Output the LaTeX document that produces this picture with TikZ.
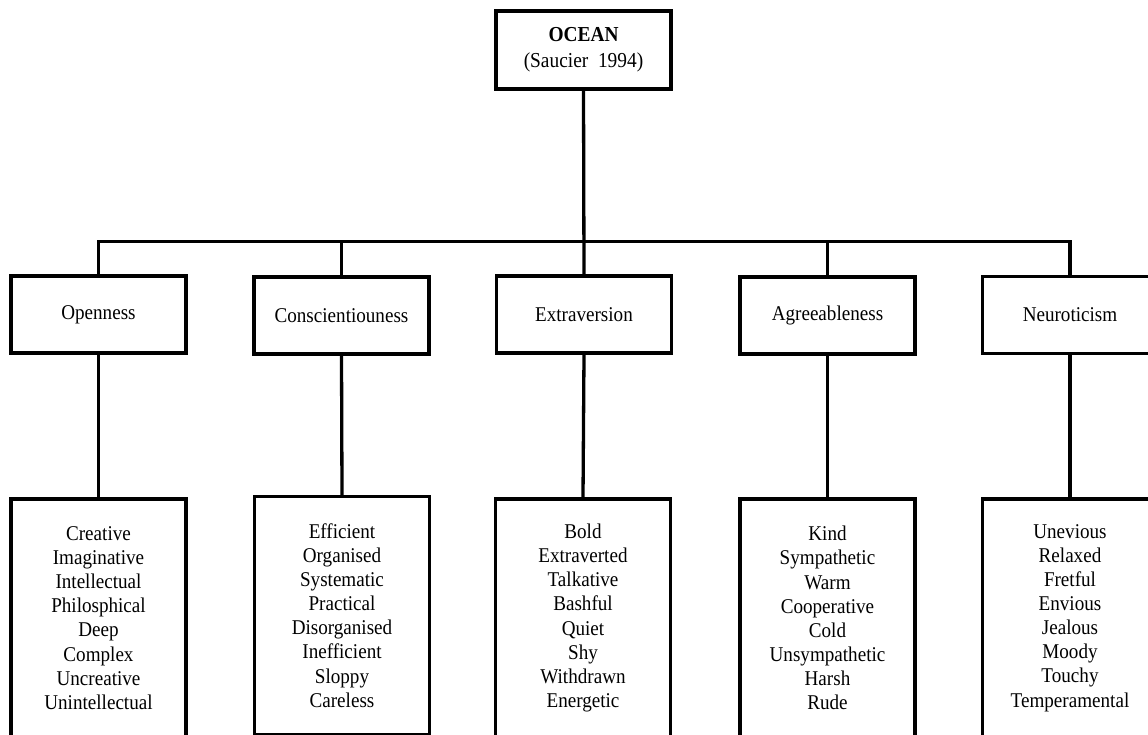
\documentclass[tikz,border=0pt]{standalone}
\usepackage{fontspec}
\setmainfont{Liberation Serif}[FakeStretch=0.91]
\begin{document}
\begin{tikzpicture}[x=1pt,y=-1pt,
  line width=3.3pt,
  box/.style={draw, rectangle, minimum width=175pt, align=center, inner sep=0pt,
              font=\fontsize{21}{24.1}\selectfont},
  topbox/.style={box, minimum height=78pt, font=\fontsize{21.3}{26}\selectfont},
  factor/.style={box, minimum height=77pt},
  traits/.style={box, minimum height=238pt}]
\useasboundingbox (0,0) rectangle (1148,735);
\fill[white] (0,0) rectangle (1148,735);

% root
\node[topbox] (ocean) at (583.5,50) {\textbf{OCEAN}\\(Saucier\ \ 1994)};

% five factors
\node[factor] (open)  at (98.5,314.5)  {Openness};
\node[factor] (consc) at (341.5,315.5) {Conscientiouness};
\node[factor] (extra) at (584,314.5)   {Extraversion};
\node[factor] (agree) at (827.5,315.5) {Agreeableness};
\node[factor] (neuro) at (1070,315)    {Neuroticism};

% trait adjectives
\node[traits] (openT)  at (98.5,618) {Creative\\Imaginative\\Intellectual\\Philosphical\\Deep\\Complex\\Uncreative\\Unintellectual};
\node[traits] (conscT) at (342,615.5) {Efficient\\Organised\\Systematic\\Practical\\Disorganised\\Inefficient\\Sloppy\\Careless};
\node[traits] (extraT) at (583,618) {Bold\\Extraverted\\Talkative\\Bashful\\Quiet\\Shy\\Withdrawn\\Energetic};
\node[traits] (agreeT) at (827.5,618) {Kind\\Sympathetic\\Warm\\Cooperative\\Cold\\Unsympathetic\\Harsh\\Rude};
\node[traits] (neuroT) at (1070,618) {Unevious\\Relaxed\\Fretful\\Envious\\Jealous\\Moody\\Touchy\\Temperamental};

% connectors
\coordinate (bar) at (584,241.5);
\draw (ocean.south) -- (extra.north);
\draw (open.north) |- (bar) -| (neuro.north);
\draw (consc.north) -- (consc.north |- bar);
\draw (agree.north) -- (agree.north |- bar);

\draw (open.south)  -- (openT.north);
\draw (consc.south) -- (conscT.north);
\draw (extra.south) -- (extraT.north);
\draw (agree.south) -- (agreeT.north);
\draw (neuro.south) -- (neuroT.north);
\end{tikzpicture}
\end{document}
